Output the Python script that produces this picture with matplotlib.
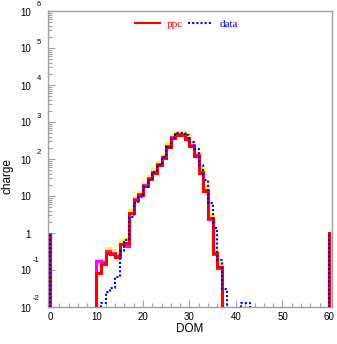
import numpy as np
import matplotlib
matplotlib.use("Agg")
import matplotlib.pyplot as plt
import matplotlib.transforms as mtransforms

# ---------------- data (DOM 0..60) ----------------
dom = np.arange(0, 61)

def series(d):
    v = np.zeros(61)
    for k, val in d.items():
        v[k] = val
    return v

ppc_vals = {0: 1.0, 10: 0.081, 11: 0.145, 12: 0.295, 13: 0.27, 14: 0.23, 15: 0.52, 16: 0.54,
            17: 3.4, 18: 7.8, 19: 10.7, 20: 18.6, 21: 28.0, 22: 43.0, 23: 69.0, 24: 105.0,
            25: 214.0, 26: 363.0, 27: 447.0, 28: 447.0, 29: 339.0, 30: 224.0, 31: 120.0,
            32: 43.0, 33: 13.8, 34: 2.5, 35: 0.28, 36: 0.123, 60: 1.0}
yellow_vals = {0: 1.0, 10: 0.17, 11: 0.19, 12: 0.40, 13: 0.34, 14: 0.28, 15: 0.63, 16: 0.68,
               17: 4.2, 18: 9.5, 19: 13.2, 20: 22.9, 21: 34.7, 22: 52.5, 23: 85.0, 24: 129.0,
               25: 263.0, 26: 437.0, 27: 537.0, 28: 537.0, 29: 417.0, 30: 275.0, 31: 148.0,
               32: 52.5, 33: 17.8, 34: 3.16, 35: 0.35, 36: 0.166, 60: 1.0}
magenta_vals = {0: 1.0, 10: 0.17, 11: 0.16, 12: 0.32, 13: 0.28, 14: 0.24, 15: 0.50, 16: 0.45,
                17: 3.55, 18: 8.3, 19: 11.5, 20: 20.0, 21: 30.2, 22: 45.7, 23: 74.0, 24: 112.0,
                25: 229.0, 26: 389.0, 27: 479.0, 28: 479.0, 29: 363.0, 30: 240.0, 31: 126.0,
                32: 45.7, 33: 14.5, 34: 2.4, 35: 0.27, 36: 0.112, 60: 1.0}
data_vals = {0: 1.0, 11: 0.013, 12: 0.025, 13: 0.033, 14: 0.063, 15: 0.32, 16: 0.65,
             17: 2.75, 18: 6.3, 19: 9.5, 20: 17.8, 21: 26.9, 22: 45.7, 23: 69.0, 24: 115.0,
             25: 214.0, 26: 363.0, 27: 490.0, 28: 513.0, 29: 447.0, 30: 295.0, 31: 182.0,
             32: 69.0, 33: 26.9, 34: 6.3, 35: 1.38, 36: 0.186, 37: 0.030, 41: 0.0126,
             42: 0.0126, 60: 1.0}

ppc = series(ppc_vals)
yellow = series(yellow_vals)
magenta = series(magenta_vals)
data = series(data_vals)

xticks = [0, 10, 20, 30, 40, 50, 60]
yexps = [-2, -1, 0, 1, 2, 3, 4, 5, 6]

# ---------------- figure ----------------
W, H = 337, 344
fig = plt.figure(figsize=(W / 100, H / 100), dpi=100)
L, R, T, B = 48.3, 332.0, 11.0, 307.0
ax = fig.add_axes([L / W, 1 - B / H, (R - L) / W, (B - T) / H])

FLOOR = 1e-6
def clipv(v):
    return np.where(v > 0, v, FLOOR)

lw = 2.2
for vals, col, z in [(yellow, '#ffff00', 2), (magenta, '#ff00ff', 3), (ppc, '#ff0000', 4)]:
    ax.plot(dom[1:], clipv(vals[1:]), drawstyle='steps-post', color=col, lw=lw, zorder=z,
            solid_joinstyle='miter')
    ax.vlines(dom[0], FLOOR, vals[0], color=col, lw=lw, zorder=z)
ax.plot(dom[1:], clipv(data[1:]), drawstyle='steps-post', color='#0000ff', lw=1.5,
        linestyle=(0, (1, 1)), zorder=5)
ax.vlines(dom[0], FLOOR, data[0], color='#0000ff', lw=1.5, linestyle=(0, (1, 1)), zorder=5)

ax.set_yscale('log')
ax.set_ylim(1e-2, 1e6)
ax.set_xlim(-0.35, 60.65)

gray = '#a0a0a0'
for s in ax.spines.values():
    s.set_color(gray)
    s.set_linewidth(1.0)

ax.set_xticks(xticks)
ax.set_xticks(np.arange(0, 61, 2), minor=True)
ax.tick_params(axis='x', which='major', direction='in', length=5, width=0.8, color=gray,
               labelsize=7, pad=3.5, top=False)
ax.tick_params(axis='x', which='minor', direction='in', length=3, width=0.8, color=gray, top=False)
for lab in ax.get_xticklabels():
    lab.set_fontfamily('Liberation Sans')

ax.set_yticks([10.0 ** e for e in yexps])
ax.yaxis.set_minor_locator(matplotlib.ticker.LogLocator(base=10, subs=np.arange(2, 10), numticks=20))
ax.yaxis.set_minor_formatter(matplotlib.ticker.NullFormatter())
ax.set_yticklabels([''] * len(yexps))
ax.tick_params(axis='y', which='major', direction='in', length=5, width=0.8, color=gray, right=False)
ax.tick_params(axis='y', which='minor', direction='in', length=3, width=0.8, color=gray, right=False)

# y tick labels: "10" with raised exponent
ytr = ax.get_yaxis_transform()
def off(dx, dy):
    return ytr + mtransforms.ScaledTranslation(dx / 100, dy / 100, fig.dpi_scale_trans)

for e in yexps:
    base = '1' if e == 0 else '10'
    ax.text(0, 10.0 ** e, base, transform=off(-17.3, -1.5), ha='right', va='center',
            fontsize=7, family='Liberation Sans', clip_on=False)
    if e not in (0, 1):
        dy = 7.5 if e > 0 else 10.5
        xl = -11.8 if e > 0 else -15.5
        ax.text(0, 10.0 ** e, str(e), transform=off(xl, -1.5 + dy), ha='left', va='center',
                fontsize=5.5, family='Liberation Sans', clip_on=False)

fig.text(190 / W, 1 - 329 / H, 'DOM', ha='center', va='center', fontsize=8.5,
         family='Liberation Sans')
fig.text(8 / W, 1 - 176 / H, 'charge', ha='center', va='center', rotation=90, fontsize=8.5,
         family='Liberation Sans')

# legend
from matplotlib.lines import Line2D
h1 = Line2D([], [], color='#ff0000', lw=1.5)
h2 = Line2D([], [], color='#0000ff', lw=1.5, linestyle=(0, (1, 1)))
leg = ax.legend([h1, h2], ['ppc', 'data'], ncol=2, loc='center', bbox_to_anchor=(0.488, 0.957),
                frameon=False, handlelength=2.25, handletextpad=0.6, columnspacing=0.45,
                prop={'family': 'Liberation Serif', 'size': 8}, borderaxespad=0, borderpad=0)
for t, c in zip(leg.get_texts(), ['#ff0000', '#0000ff']):
    t.set_color(c)

fig.savefig('out.png', dpi=100)
